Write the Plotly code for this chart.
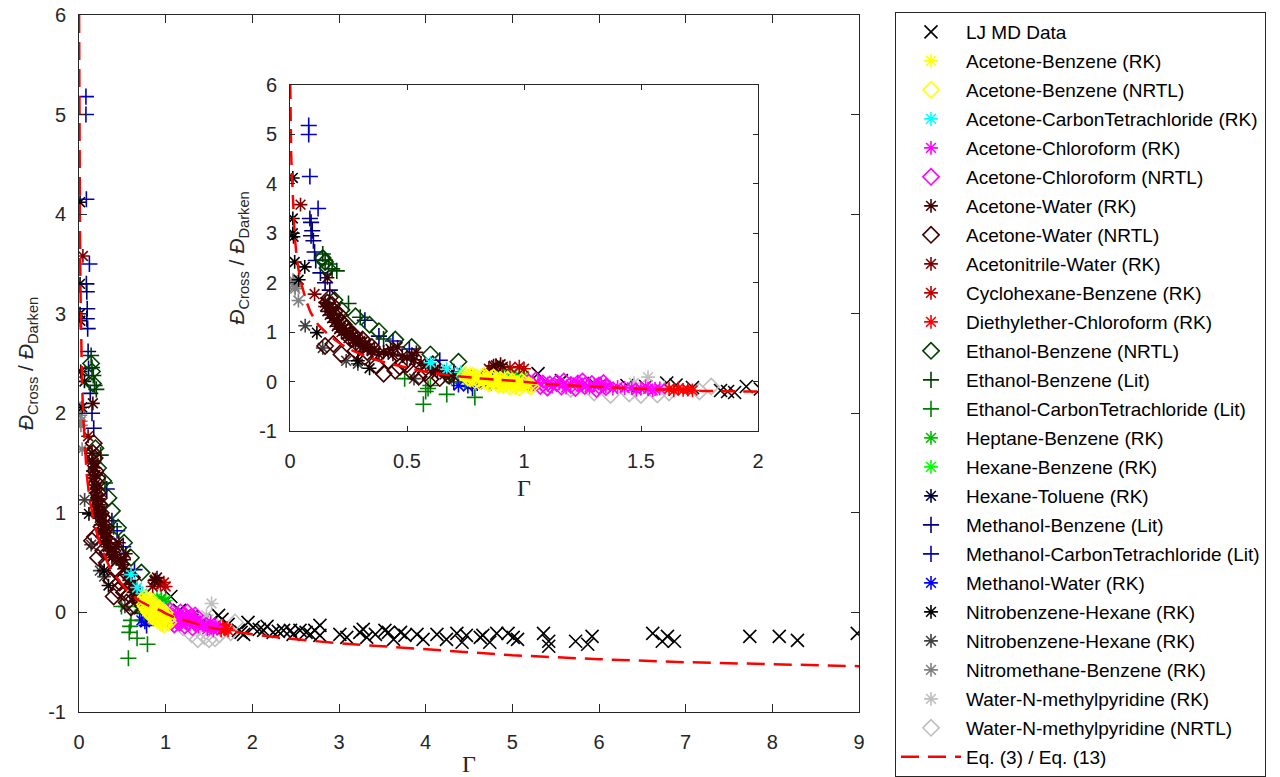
import plotly.graph_objects as go

# ---------------- data ----------------
lj_x = [0.80, 0.88, 0.95, 1.06, 1.16, 1.30, 1.44, 1.52, 1.61, 1.65, 1.72, 1.84, 1.87, 1.90, 1.95, 2.01, 2.08, 2.13,
        2.17, 2.24, 2.30, 2.36, 2.44, 2.47, 2.55, 2.62, 2.67, 2.72, 2.78, 2.78, 3.01, 3.09, 3.24, 3.28, 3.32, 3.42,
        3.53, 3.57, 3.63, 3.71, 3.76, 3.90, 3.97, 4.13, 4.24, 4.36, 4.42, 4.47, 4.63, 4.66, 4.74, 4.82, 4.95, 5.01,
        5.06, 5.36, 5.42, 5.42, 5.73, 5.87, 5.92, 6.62, 6.73, 6.79, 6.87, 7.74, 8.08, 8.29, 8.98]
lj_y = [0.10, 0.08, 0.05, 0.16, 0.02, -0.04, -0.08, -0.10, -0.03, -0.07, -0.12, -0.18, -0.20, -0.22, -0.10, -0.15,
        -0.17, -0.18, -0.14, -0.20, -0.19, -0.18, -0.18, -0.22, -0.18, -0.20, -0.22, -0.18, -0.13, -0.23, -0.22,
        -0.25, -0.20, -0.17, -0.25, -0.22, -0.18, -0.20, -0.27, -0.20, -0.23, -0.22, -0.27, -0.22, -0.27, -0.21,
        -0.30, -0.23, -0.25, -0.23, -0.30, -0.21, -0.21, -0.25, -0.27, -0.21, -0.29, -0.34, -0.29, -0.32, -0.24,
        -0.21, -0.29, -0.24, -0.29, -0.24, -0.24, -0.28, -0.21]

ab_rk_x = [0.75, 0.78, 0.80, 0.83, 0.86, 0.89, 0.92, 0.95, 0.98, 1.01, 0.81, 0.88, 0.94, 0.77, 0.79, 0.84, 0.87,
           0.90, 0.93, 0.96, 0.99, 1.02, 0.85, 0.91, 0.97]
ab_rk_y = [0.12, 0.08, 0.13, 0.04, 0.07, 0.01, 0.03, -0.03, -0.02, -0.06, 0.02, -0.04, -0.07, 0.15, 0.05, 0.10,
           -0.01, 0.05, -0.05, 0.01, -0.09, -0.05, -0.06, -0.10, -0.12]
ab_nr_x = [0.76, 0.78, 0.80, 0.82, 0.84, 0.86, 0.88, 0.90, 0.92, 0.95, 0.97, 1.00, 0.79, 0.85, 0.91, 0.96, 0.83,
           0.75, 0.77, 0.81, 0.87, 0.89, 0.93, 0.94, 0.99, 1.02, 0.98, 1.03]
ab_nr_y = [0.08, 0.12, 0.05, 0.09, 0.02, 0.05, -0.02, 0.03, -0.02, 0.00, -0.05, -0.04, 0.03, -0.04, -0.07, -0.09,
           0.12, 0.14, 0.06, 0.00, 0.08, -0.06, 0.04, -0.10, 0.00, -0.07, -0.12, -0.10]

acc_x = [0.60, 0.67, 0.73, 0.79, 0.86, 0.93]
acc_y = [0.38, 0.25, 0.19, 0.12, 0.08, 0.06]

ach_rk_x = [1.02, 1.06, 1.10, 1.15, 1.20, 1.25, 1.30, 1.35, 1.40, 1.43, 1.46, 1.50, 1.53, 1.56, 1.58, 1.04, 1.12,
            1.18, 1.23, 1.28, 1.33, 1.38, 1.48, 1.52, 1.55]
ach_rk_y = [0.02, -0.02, -0.04, -0.03, -0.06, -0.08, -0.07, -0.10, -0.11, -0.13, -0.12, -0.14, -0.15, -0.15, -0.14,
            -0.08, -0.10, -0.12, -0.02, -0.12, -0.04, -0.14, -0.17, -0.10, -0.18]
ach_nr_x = [1.02, 1.05, 1.08, 1.11, 1.14, 1.17, 1.20, 1.23, 1.26, 1.29, 1.32, 1.35, 1.10, 1.22, 1.31, 1.07, 1.16,
            1.25, 1.34]
ach_nr_y = [-0.02, 0.02, -0.04, -0.06, -0.03, 0.00, -0.07, -0.04, -0.09, -0.05, -0.08, -0.11, -0.12, -0.13, -0.15,
            -0.09, -0.10, 0.00, -0.03]

aw_rk_x = [0.16, 0.15, 0.16, 0.17, 0.18, 0.19, 0.20, 0.21, 0.22, 0.24, 0.25, 0.27, 0.28, 0.30, 0.31, 0.33, 0.35,
           0.38, 0.43, 0.46, 0.48, 0.52, 0.54, 0.56, 0.60, 0.63, 0.66, 0.70, 0.87, 0.90, 0.15, 0.17, 0.18, 0.19,
           0.20, 0.21, 0.22, 0.23, 0.24, 0.26, 0.27, 0.29, 0.30, 0.32, 0.34, 0.36, 0.40, 0.42, 0.44, 0.50, 0.53,
           0.58, 0.62, 0.66, 0.68]
aw_rk_y = [2.10, 1.52, 1.42, 1.35, 1.28, 1.20, 1.12, 1.06, 1.00, 0.95, 0.88, 0.84, 0.78, 0.72, 0.80, 0.66, 0.62,
           0.55, 0.66, 0.70, 0.52, 0.53, 0.59, 0.38, 0.28, 0.20, 0.14, 0.10, 0.32, 0.35, 1.60, 1.50, 1.45, 1.38,
           1.25, 1.18, 1.14, 1.08, 1.02, 0.98, 0.92, 0.88, 0.82, 0.76, 0.70, 0.66, 0.60, 0.58, 0.55, 0.48, 0.44,
           0.32, 0.25, 0.20, 0.16]
aw_nr_x = [0.17, 0.18, 0.19, 0.20, 0.22, 0.24, 0.15, 0.185, 0.22, 0.26, 0.29, 0.33, 0.37, 0.40, 0.45, 0.50, 0.55,
           0.61, 0.64, 0.68, 0.16, 0.21, 0.23, 0.25, 0.27, 0.31, 0.35, 0.28, 0.32, 0.42, 0.47, 0.52, 0.58, 0.60]
aw_nr_y = [1.70, 1.55, 1.42, 1.30, 1.20, 1.08, 0.72, 0.76, 0.55, 0.86, 0.76, 0.60, 0.32, 0.16, 0.22, 0.35, 0.10,
           0.35, 0.07, 0.12, 1.60, 1.35, 1.15, 1.00, 0.95, 0.85, 0.70, 0.62, 0.50, 0.42, 0.30, 0.20, 0.18, 0.05]

anw_x = [0.045, 0.105, 0.85, 0.88, 0.91]
anw_y = [3.58, 1.77, 0.26, 0.33, 0.30]
chb_x = [0.94, 0.98, 1.00]
chb_y = [0.28, 0.30, 0.26]
dec_x = [1.62, 1.64, 1.66, 1.68, 1.70, 1.72]
dec_y = [-0.15, -0.18, -0.14, -0.17, -0.16, -0.18]

eb_nr_x = [0.14, 0.15, 0.16, 0.19, 0.22, 0.28, 0.34, 0.38, 0.45, 0.52, 0.60, 0.72]
eb_nr_y = [2.50, 2.42, 2.30, 1.65, 1.45, 1.32, 1.15, 1.02, 0.85, 0.70, 0.55, 0.40]
eb_lit_x = [0.14, 0.15, 0.165, 0.18, 0.20, 0.25, 0.30, 0.40]
eb_lit_y = [2.58, 2.46, 2.38, 2.28, 2.24, 1.58, 1.30, 0.86]
ec_lit_x = [0.49, 0.57, 0.58, 0.59, 0.60, 0.67, 0.79, 0.75, 0.86]
ec_lit_y = [0.06, -0.46, -0.20, -0.14, -0.08, -0.26, -0.32, 0.00, -0.02]
hpb_x = [0.69, 0.95, 0.98]
hpb_y = [0.06, 0.14, 0.11]
hxb_x = [0.90, 1.00]
hxb_y = [0.15, 0.12]
hxt_x = [0.82, 0.88]
hxt_y = [0.02, -0.02]

mb_lit_x = [0.085, 0.09, 0.095, 0.09, 0.10, 0.105, 0.11, 0.13, 0.15, 0.17, 0.32, 0.38]
mb_lit_y = [3.30, 3.22, 3.05, 2.95, 2.85, 2.62, 2.45, 2.20, 2.00, 1.85, 1.24, 0.92]
mc_lit_x = [0.08, 0.08, 0.085, 0.12, 0.44, 0.51, 0.64, 0.70, 0.70, 0.78]
mc_lit_y = [5.18, 5.00, 4.15, 3.50, 0.82, 0.66, 0.43, 0.20, -0.01, -0.13]
mw_x = [0.72, 0.76, 0.80, 0.85]
mw_y = [-0.08, -0.10, -0.05, -0.02]

nbh1_x = [0.012, 0.012, 0.012, 0.015, 0.02, 0.063, 0.037, 0.115, 0.29, 0.34]
nbh1_y = [4.12, 3.30, 3.00, 2.93, 2.42, 2.32, 2.06, 0.99, 0.42, 0.27]
nbh2_x = [0.065, 0.14, 0.24, 0.29, 0.53]
nbh2_y = [1.13, 0.68, 0.42, 0.36, 0.06]
nmb_x = [0.013, 0.016, 0.02, 0.022, 0.036]
nmb_y = [2.05, 1.98, 1.92, 1.88, 1.64]
wnm_rk_x = [1.25, 1.35, 1.47, 1.53, 1.60]
wnm_rk_y = [-0.10, -0.06, -0.03, 0.09, -0.12]
wnm_nr_x = [1.10, 1.20, 1.30, 1.37, 1.45, 1.50, 1.57, 1.62, 1.75, 1.80]
wnm_nr_y = [-0.12, -0.15, -0.22, -0.27, -0.24, -0.27, -0.26, -0.22, -0.20, -0.10]

eq_x = [0.001, 0.003, 0.005, 0.008, 0.011, 0.016, 0.02, 0.027, 0.035, 0.05, 0.07, 0.088, 0.12, 0.17, 0.22, 0.27,
        0.34, 0.41, 0.48, 0.555, 0.69, 0.82, 0.94, 1.0, 1.1, 1.21, 1.34, 1.51, 1.76, 2.0, 2.5, 3.0, 4.0, 5.0, 6.0,
        7.0, 8.0, 9.0]
eq_y = [6.0, 5.0, 4.6, 4.2, 3.9, 3.3, 2.95, 2.6, 2.3, 1.95, 1.62, 1.40, 1.15, 0.92, 0.75, 0.62, 0.48, 0.38, 0.30,
        0.22, 0.12, 0.06, 0.02, -0.01, -0.05, -0.08, -0.11, -0.15, -0.19, -0.22, -0.27, -0.31, -0.37, -0.43, -0.47,
        -0.50, -0.52, -0.54]

main_ticks_x = [0, 1, 2, 3, 4, 5, 6, 7, 8, 9]
inset_ticks_x = [0, 0.5, 1, 1.5, 2]
inset_ticks_x_text = ["0", "0.5", "1", "1.5", "2"]
ticks_y = [-1, 0, 1, 2, 3, 4, 5, 6]
ticks_y_text = ["-1", "0", "1", "2", "3", "4", "5", "6"]

# name, x, y, marker, colour  (legend order)
series = [
    ("LJ MD Data", lj_x, lj_y, "x", "#000000"),
    ("Acetone-Benzene (RK)", ab_rk_x, ab_rk_y, "*", "#ffff00"),
    ("Acetone-Benzene (NRTL)", ab_nr_x, ab_nr_y, "d", "#ffff00"),
    ("Acetone-CarbonTetrachloride (RK)", acc_x, acc_y, "*", "#00ffff"),
    ("Acetone-Chloroform (RK)", ach_rk_x, ach_rk_y, "*", "#ff00ff"),
    ("Acetone-Chloroform (NRTL)", ach_nr_x, ach_nr_y, "d", "#ff00ff"),
    ("Acetone-Water (RK)", aw_rk_x, aw_rk_y, "*", "#400000"),
    ("Acetone-Water (NRTL)", aw_nr_x, aw_nr_y, "d", "#400000"),
    ("Acetonitrile-Water (RK)", anw_x, anw_y, "*", "#800000"),
    ("Cyclohexane-Benzene (RK)", chb_x, chb_y, "*", "#bf0000"),
    ("Diethylether-Chloroform (RK)", dec_x, dec_y, "*", "#ff0000"),
    ("Ethanol-Benzene (NRTL)", eb_nr_x, eb_nr_y, "d", "#004000"),
    ("Ethanol-Benzene (Lit)", eb_lit_x, eb_lit_y, "+", "#004000"),
    ("Ethanol-CarbonTetrachloride (Lit)", ec_lit_x, ec_lit_y, "+", "#008000"),
    ("Heptane-Benzene (RK)", hpb_x, hpb_y, "*", "#00bf00"),
    ("Hexane-Benzene (RK)", hxb_x, hxb_y, "*", "#00ff00"),
    ("Hexane-Toluene (RK)", hxt_x, hxt_y, "*", "#000040"),
    ("Methanol-Benzene (Lit)", mb_lit_x, mb_lit_y, "+", "#000080"),
    ("Methanol-CarbonTetrachloride (Lit)", mc_lit_x, mc_lit_y, "+", "#0000bf"),
    ("Methanol-Water (RK)", mw_x, mw_y, "*", "#0000ff"),
    ("Nitrobenzene-Hexane (RK)", nbh1_x, nbh1_y, "*", "#000000"),
    ("Nitrobenzene-Hexane (RK)", nbh2_x, nbh2_y, "*", "#404040"),
    ("Nitromethane-Benzene (RK)", nmb_x, nmb_y, "*", "#808080"),
    ("Water-N-methylpyridine (RK)", wnm_rk_x, wnm_rk_y, "*", "#bfbfbf"),
    ("Water-N-methylpyridine (NRTL)", wnm_nr_x, wnm_nr_y, "d", "#bfbfbf"),
]

SYMBOLS = {"x": ("x-thin-open", 13), "*": ("asterisk-open", 11.5), "d": ("diamond-open", 12.5),
           "+": ("cross-thin-open", 11.5)}

W, H = 1280, 777
FONT = "Liberation Sans, Arial, sans-serif"
AX = "#262626"

fig = go.Figure()

# drawing order: LJ at the bottom, the rest stacked so the yellow cluster ends on top
draw_order = [0] + list(range(len(series) - 1, 0, -1))

for i in draw_order:
    name, xs, ys, mk, col = series[i]
    sym, size = SYMBOLS[mk]
    for sub, (xa, ya) in enumerate([("x", "y"), ("x2", "y2")]):
        fig.add_trace(go.Scatter(
            x=xs, y=ys, mode="markers", name=name, xaxis=xa, yaxis=ya,
            legendgroup="g%02d" % i, legendrank=100 + i, showlegend=(sub == 0),
            marker=dict(symbol=sym, size=size, color=col, line=dict(color=col, width=1.6)),
            hoverinfo="skip",
        ))

for sub, (xa, ya) in enumerate([("x", "y"), ("x2", "y2")]):
    fig.add_trace(go.Scatter(
        x=eq_x, y=eq_y, mode="lines", name="Eq. (3) / Eq. (13)", xaxis=xa, yaxis=ya,
        legendgroup="geq", legendrank=200, showlegend=(sub == 0),
        line=dict(color="#ff0000", width=2.5, dash="18px,9px" if sub == 0 else "14px,8px"),
        hoverinfo="skip",
    ))


def px_x(p):
    return p / W


def px_y(p):
    return 1 - p / H


axis_common = dict(showline=True, linecolor=AX, linewidth=1, mirror="ticks", ticks="inside",
                   tickcolor=AX, showgrid=False, zeroline=False, automargin=False,
                   tickfont=dict(family=FONT, size=20, color=AX))

ytitle = "<i>Đ</i><sub>Cross</sub> / <i>Đ</i><sub>Darken</sub>"
gamma_font = dict(family="Liberation Serif, serif", size=24, color=AX)

fig.update_layout(
    width=W, height=H,
    margin=dict(l=0, r=0, t=0, b=0),
    paper_bgcolor="white", plot_bgcolor="white",
    font=dict(family=FONT, size=19, color=AX),
    xaxis=dict(domain=[px_x(79), px_x(859)], range=[0, 9], tickvals=main_ticks_x, ticklen=8,
               ticklabelstandoff=12, anchor="y",
               title=dict(text="Γ", font=gamma_font, standoff=16),
               **axis_common),
    yaxis=dict(domain=[px_y(712), px_y(15)], range=[-1, 6], tickvals=ticks_y, ticktext=ticks_y_text, ticklen=8,
               ticklabelstandoff=8, anchor="x",
               title=dict(text=ytitle, font=dict(family=FONT, size=21, color=AX), standoff=8),
               **axis_common),
    xaxis2=dict(domain=[px_x(290), px_x(758)], range=[0, 2], tickvals=inset_ticks_x, ticktext=inset_ticks_x_text,
                ticklen=5, ticklabelstandoff=12, anchor="y2",
                title=dict(text="Γ", font=gamma_font, standoff=8),
                **axis_common),
    yaxis2=dict(domain=[px_y(431), px_y(85)], range=[-1, 6], tickvals=ticks_y, ticktext=ticks_y_text, ticklen=5,
                ticklabelstandoff=8, anchor="x2",
                title=dict(text=ytitle, font=dict(family=FONT, size=21, color=AX), standoff=8),
                **axis_common),
    legend=dict(x=px_x(895), y=px_y(15), xanchor="left", yanchor="top",
                bordercolor=AX, borderwidth=1, bgcolor="white",
                font=dict(family=FONT, size=19, color="#000000"),
                tracegroupgap=1.3, itemwidth=60),
    showlegend=True,
)

fig.write_html("out.html", config={"displayModeBar": False},
               post_script="document.body.style.margin='0';")
